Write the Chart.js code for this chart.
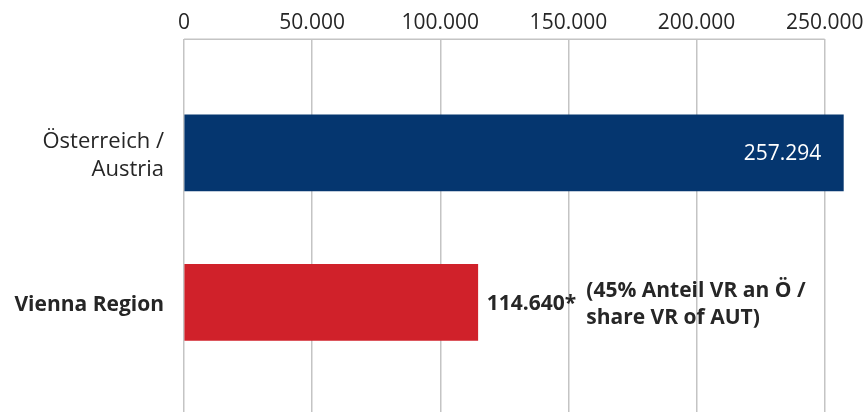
<!DOCTYPE html>
<html>
<head>
<meta charset="utf-8">
<script src="https://cdn.jsdelivr.net/npm/chart.js@4/dist/chart.umd.min.js"></script>
<style>
    html, body { margin: 0; padding: 0; background: #ffffff; }
    #wrap { width: 868px; height: 412px; }
</style>
</head>
<body>
<div id="wrap"><canvas id="chart" width="868" height="412"></canvas></div>
<script>
    "use strict";

    // Data
    var categories = [["Österreich /", "Austria"], ["Vienna Region"]];
    var values = [257294, 114640];
    var valueSuffix = ["", "*"];
    var noteLines = [null, ["(45% Anteil VR an Ö /", "share VR of AUT)"]];
    var xTickValues = [0, 50000, 100000, 150000, 200000, 250000];

    var FONT = "'Open Sans', 'Noto Sans', sans-serif";
    var TEXT = "#262626";
    var GRID = "#c4c4c4";
    var barColors = ["#05366f", "#d0212a"];

    var fmt = function (n) {
        return String(Math.round(n)).replace(/\B(?=(\d{3})+(?!\d))/g, ".");
    };

    // value labels next to / inside the bars
    var barLabels = {
        id: "barLabels",
        afterDatasetsDraw: function (chart) {
            var ctx = chart.ctx;
            var meta = chart.getDatasetMeta(0);
            ctx.save();
            ctx.textBaseline = "middle";
            meta.data.forEach(function (bar, i) {
                var text = fmt(values[i]) + valueSuffix[i];
                if (i === 0) {
                    ctx.font = "normal 21px " + FONT;
                    ctx.fillStyle = "#ffffff";
                    ctx.textAlign = "right";
                    ctx.fillText(text, bar.x - 22, bar.y + 1);
                } else {
                    ctx.font = "bold 21px " + FONT;
                    ctx.fillStyle = TEXT;
                    ctx.textAlign = "left";
                    var x = bar.x + 9;
                    ctx.fillText(text, x, bar.y + 2);
                    var notes = noteLines[i];
                    if (notes) {
                        var nx = x + ctx.measureText(text).width + 10;
                        ctx.fillText(notes[0], nx, bar.y - 11);
                        ctx.fillText(notes[1], nx, bar.y + 16);
                    }
                }
            });
            ctx.restore();
        }
    };

    // top axis line only up to the last tick
    var topLine = {
        id: "topLine",
        beforeDatasetsDraw: function (chart) {
            var ctx = chart.ctx;
            var xs = chart.scales.x;
            var top = chart.chartArea.top;
            ctx.save();
            ctx.strokeStyle = GRID;
            ctx.lineWidth = 1.5;
            ctx.beginPath();
            ctx.moveTo(xs.getPixelForValue(xTickValues[0]), top);
            ctx.lineTo(xs.getPixelForValue(xTickValues[xTickValues.length - 1]), top);
            ctx.stroke();
            ctx.restore();
        }
    };

    var chart = new Chart(document.getElementById("chart").getContext("2d"), {
        type: "bar",
        data: {
            datasets: [{
                data: values.map(function (v, i) { return { x: v, y: i }; }),
                backgroundColor: barColors,
                barThickness: 76,
                borderWidth: 0
            }]
        },
        options: {
            indexAxis: "y",
            responsive: false,
            animation: false,
            layout: { padding: { top: 6, right: 12, bottom: 0, left: 0 } },
            plugins: {
                legend: { display: false },
                tooltip: { enabled: false }
            },
            scales: {
                x: {
                    type: "linear",
                    position: "top",
                    min: 0,
                    max: 262000,
                    afterBuildTicks: function (scale) {
                        scale.ticks = xTickValues.map(function (v) { return { value: v }; });
                    },
                    ticks: {
                        padding: 4,
                        color: TEXT,
                        autoSkip: false,
                        maxRotation: 0,
                        font: { family: FONT, size: 21, lineHeight: 1.2 },
                        callback: function (v) { return fmt(v); }
                    },
                    grid: { color: GRID, lineWidth: 1.5, drawTicks: false },
                    border: { display: false }
                },
                y: {
                    type: "linear",
                    reverse: true,
                    offset: false,
                    min: -0.76,
                    max: 1.733,
                    afterBuildTicks: function (scale) {
                        scale.ticks = categories.map(function (c, i) { return { value: i }; });
                    },
                    afterFit: function (scale) {
                        scale.width = 184;
                        scale.paddingTop = 0;
                        scale.paddingBottom = 0;
                    },
                    ticks: {
                        padding: 20,
                        labelOffset: 3,
                        color: TEXT,
                        autoSkip: false,
                        font: function (c) {
                            return {
                                family: FONT,
                                size: c.index === 1 ? 21 : 22,
                                lineHeight: 1.3,
                                weight: c.index === 1 ? "bold" : "normal"
                            };
                        },
                        callback: function (v, i) { return categories[i]; }
                    },
                    grid: { display: false, drawTicks: false },
                    border: { display: false }
                }
            }
        },
        plugins: [topLine, barLabels]
    });
</script>
</body>
</html>
